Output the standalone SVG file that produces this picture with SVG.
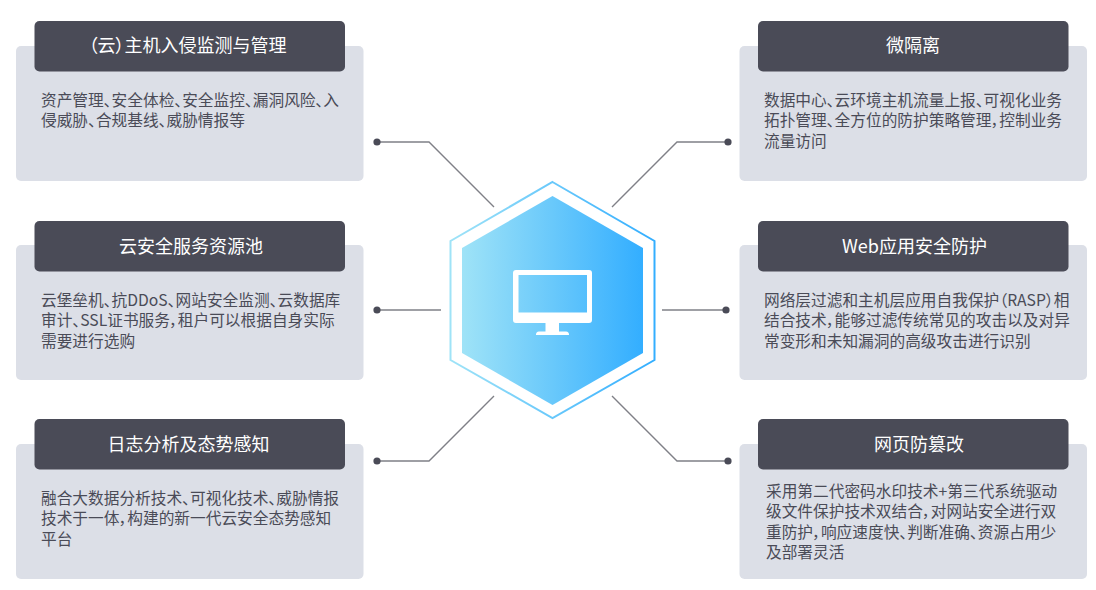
<svg xmlns="http://www.w3.org/2000/svg" width="1096" height="590" viewBox="0 0 1096 590">
<style>
text{font-family:"Noto Sans CJK SC","Noto Sans",sans-serif;font-feature-settings:"palt"}
.p{fill:#dcdfe7}
.h{fill:#4a4b57}
.t{fill:#fff;font-size:18px;text-anchor:middle}
.b{fill:#4a4b57;font-size:15.7px}
.c{fill:none;stroke:#7f8087;stroke-width:1.4}
.d{fill:#4a4b57}
</style>
<defs>
<linearGradient id="g1" x1="0" x2="1" y1="0" y2="0"><stop offset="0" stop-color="#9fe3f7"/><stop offset="1" stop-color="#33aeff"/></linearGradient>
</defs>
<g id="connectors">
<path class="c" d="M377 142H429L494 207"/><circle class="d" cx="377" cy="142" r="3.6"/>
<path class="c" d="M377 310H441"/><circle class="d" cx="377" cy="310" r="3.6"/>
<path class="c" d="M377 461H429L494 396"/><circle class="d" cx="377" cy="461" r="3.6"/>
<path class="c" d="M728 142H677L612 207"/><circle class="d" cx="728" cy="142" r="3.6"/>
<path class="c" d="M726 310H662"/><circle class="d" cx="726" cy="310" r="3.6"/>
<path class="c" d="M728 461H677L612 396"/><circle class="d" cx="728" cy="461" r="3.6"/>
</g>
<g id="center">
<polygon points="552.500,182 654.500,241 654.500,360 552.500,418 450.500,360 450.500,241" fill="#fff" stroke="url(#g1)" stroke-width="2"/>
<polygon points="552.500,196 643,248 643,353 552.500,405 462,353 462,248" fill="url(#g1)"/>
<path fill="#fff" fill-rule="evenodd" d="M516 270H589a3 3 0 0 1 3 3V320a3 3 0 0 1-3 3H559V331.500H566a3 3 0 0 1 3 3.500H536a3 3 0 0 1 3-3.500H545.500V323H516a3 3 0 0 1-3-3V273a3 3 0 0 1 3-3ZM518.500 275V312.500H587V275Z"/>
</g>
<g id="node1">
<rect class="p" x="16" y="46" width="347.500" height="135" rx="5"/><rect class="h" x="34.500" y="21" width="310.500" height="50.500" rx="5"/>
<text class="t" x="187.500" y="52">（云）主机入侵监测与管理</text>
<text class="b"><tspan x="41" y="106">资产管理、安全体检、安全监控、漏洞风险、入</tspan><tspan x="41" y="126">侵威胁、合规基线、威胁情报等</tspan></text>
</g>
<g id="node2">
<rect class="p" x="16" y="245" width="347.500" height="135" rx="5"/><rect class="h" x="34.500" y="221" width="310.500" height="50.500" rx="5"/>
<text class="t" x="191" y="252.500">云安全服务资源池</text>
<text class="b"><tspan x="41" y="306">云堡垒机、抗DDoS、网站安全监测、云数据库</tspan><tspan x="41" y="326">审计、SSL证书服务，租户可以根据自身实际</tspan><tspan x="41" y="347">需要进行选购</tspan></text>
</g>
<g id="node3">
<rect class="p" x="16" y="444" width="347.500" height="135" rx="5"/><rect class="h" x="34.500" y="419" width="310.500" height="50.500" rx="5"/>
<text class="t" x="188.500" y="450.500">日志分析及态势感知</text>
<text class="b"><tspan x="41" y="504">融合大数据分析技术、可视化技术、威胁情报</tspan><tspan x="41" y="524">技术于一体，构建的新一代云安全态势感知</tspan><tspan x="41" y="545">平台</tspan></text>
</g>
<g id="node4">
<rect class="p" x="739.500" y="46" width="347.500" height="135" rx="5"/><rect class="h" x="758" y="21" width="310.500" height="50.500" rx="5"/>
<text class="t" x="913" y="52">微隔离</text>
<text class="b"><tspan x="764" y="106">数据中心、云环境主机流量上报、可视化业务</tspan><tspan x="764" y="126">拓扑管理、全方位的防护策略管理，控制业务</tspan><tspan x="764" y="147">流量访问</tspan></text>
</g>
<g id="node5">
<rect class="p" x="739.500" y="245" width="347.500" height="135" rx="5"/><rect class="h" x="758" y="221" width="310.500" height="50.500" rx="5"/>
<text class="t" x="914.500" y="252.500">Web应用安全防护</text>
<text class="b"><tspan x="764" y="306">网络层过滤和主机层应用自我保护（RASP）相</tspan><tspan x="764" y="326">结合技术，能够过滤传统常见的攻击以及对异</tspan><tspan x="764" y="347">常变形和未知漏洞的高级攻击进行识别</tspan></text>
</g>
<g id="node6">
<rect class="p" x="739.500" y="444" width="347.500" height="135" rx="5"/><rect class="h" x="758" y="419" width="310.500" height="50.500" rx="5"/>
<text class="t" x="919" y="450.500">网页防篡改</text>
<text class="b"><tspan x="766" y="497">采用第二代密码水印技术+第三代系统驱动</tspan><tspan x="766" y="517">级文件保护技术双结合，对网站安全进行双</tspan><tspan x="766" y="538">重防护，响应速度快、判断准确、资源占用少</tspan><tspan x="766" y="558">及部署灵活</tspan></text>
</g>
</svg>
